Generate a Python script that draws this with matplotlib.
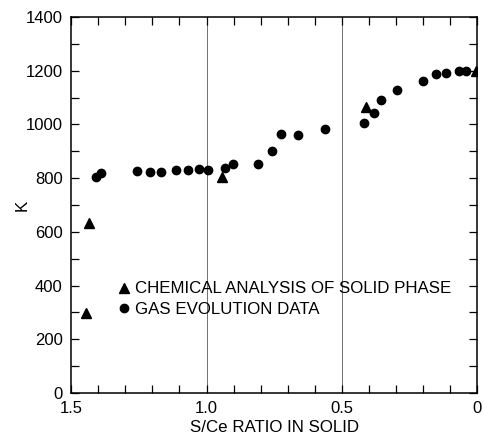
import matplotlib
matplotlib.use('Agg')
import matplotlib.pyplot as plt
from matplotlib.ticker import MultipleLocator

# S/Ce ratio in solid vs K
gas_ratio = [1.408, 1.389, 1.255, 1.209, 1.167, 1.112, 1.068, 1.027, 0.993,
             0.933, 0.901, 0.810, 0.759, 0.723, 0.662, 0.561, 0.419, 0.380,
             0.355, 0.298, 0.200, 0.151, 0.117, 0.068, 0.041]
gas_k = [805, 818, 826, 823, 823, 829, 829, 834, 830,
         837, 851, 851, 902, 963, 961, 982, 1004, 1041,
         1091, 1127, 1162, 1187, 1193, 1198, 1198]

chem_ratio = [1.444, 1.434, 0.942, 0.411, 0.003]
chem_k = [297, 634, 805, 1064, 1200]

x_ticks = [1.5, 1.0, 0.5, 0]
x_ticklabels = ['1.5', '1.0', '0.5', '0']
phase_lines = [1.0, 0.5]

plt.rcParams['font.family'] = ['Liberation Sans', 'DejaVu Sans']

fig = plt.figure(figsize=(4.84, 4.38), dpi=100)
ax = fig.add_axes([0.147, 0.103, 0.839, 0.858])

for xv in phase_lines:
	ax.axvline(xv, color='0.35', lw=0.6, zorder=1)

ax.plot(chem_ratio, chem_k, linestyle='none', marker='^', color='k',
		markersize=6.5, label='CHEMICAL ANALYSIS OF SOLID PHASE', zorder=3)
ax.plot(gas_ratio, gas_k, linestyle='none', marker='o', color='k',
		markersize=6, label='GAS EVOLUTION DATA', zorder=3)

ax.set_xlim(1.5, 0)
ax.set_ylim(0, 1400)
ax.set_xticks(x_ticks)
ax.set_xticklabels(x_ticklabels)
ax.xaxis.set_minor_locator(MultipleLocator(0.1))
ax.yaxis.set_major_locator(MultipleLocator(200))
ax.yaxis.set_minor_locator(MultipleLocator(100))
ax.tick_params(which='both', direction='in', top=True, right=True,
			   labelsize=12, width=0.9)
ax.tick_params(which='major', length=6, pad=6)
ax.tick_params(which='minor', length=6)
for sp in ax.spines.values():
	sp.set_linewidth(1.1)

ax.set_xlabel('S/Ce RATIO IN SOLID', fontsize=12.2, labelpad=3)
ax.set_ylabel('K', fontsize=12.2, labelpad=-3)

ax.legend(loc='upper left', bbox_to_anchor=(0.088, 0.319), frameon=False,
		  fontsize=12.2, handletextpad=0.15, handlelength=1.0,
		  labelspacing=0.3, borderpad=0)

fig.savefig('out.png', dpi=100)
